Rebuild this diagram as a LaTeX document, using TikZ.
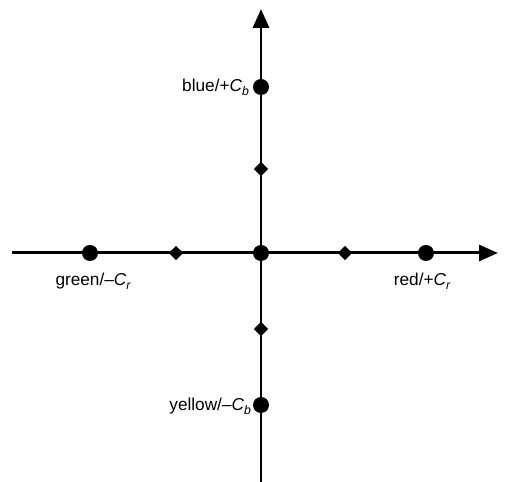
\documentclass[tikz,border=0pt]{standalone}
\usepackage{fontspec}
\setmainfont{Liberation Sans}
\usetikzlibrary{positioning, arrows.meta, shapes.geometric}

% italic C with a lowered italic index
\newcommand{\chan}[1]{{\itshape C}\raisebox{-0.45ex}{\fontsize{7}{8}\selectfont\itshape #1}}

\begin{document}
\begin{tikzpicture}[
    x=0.02cm, y=-0.02cm,
    every node/.style={font=\fontsize{9.8}{11}\selectfont},
    dot/.style={circle, fill=black, inner sep=0pt, minimum size=0.32cm},
    knot/.style={diamond, fill=black, inner sep=0pt, minimum size=0.29cm},
    axisline/.style={line width=1.7pt, -{Triangle[length=0.38cm, width=0.32cm]}},
    tag/.style={inner sep=1pt},
]
\useasboundingbox (0,0) rectangle (505,482);

% =====================================================================
%  Axes
% =====================================================================
\coordinate (Xl) at (12,253);
\coordinate (Xr) at (498,253);
\coordinate (Yb) at (261,482);
\coordinate (Yt) at (261,9);

\draw[axisline] (Xl) -- (Xr);
\draw[axisline] (Yb) -- (Yt);

% =====================================================================
%  Colour points
% =====================================================================
\node[dot] (O)  at (261,253) {};
\node[dot] (B)  at (261,87)  {};
\node[dot] (Ye) at (261,405) {};
\node[dot] (G)  at (90,253)  {};
\node[dot] (R)  at (426,253) {};

% Half-way marks
\node[knot] (Bm) at (261,169) {};
\node[knot] (Ym) at (261,329) {};
\node[knot] (Gm) at (176,253) {};
\node[knot] (Rm) at (345,253) {};

% Labels
\node[tag, anchor=east] (Blab) at (251,87)  {blue/+\chan{b}};
\node[tag, anchor=east] (Ylab) at (253,406) {yellow/–\chan{b}};
\node[tag] (Glab) at (93,281)  {green/–\chan{r}};
\node[tag] (Rlab) at (422,281) {red/+\chan{r}};

\end{tikzpicture}
\end{document}
